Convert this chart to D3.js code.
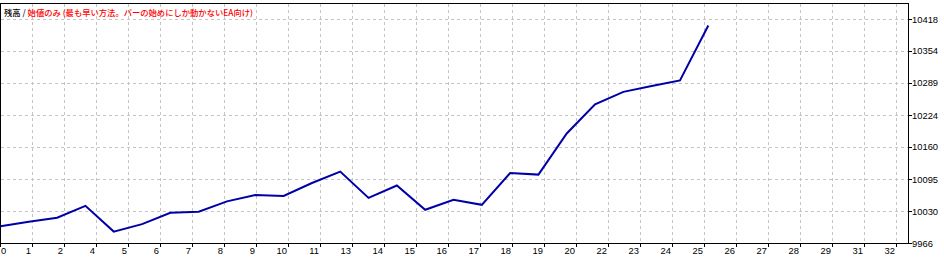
<!DOCTYPE html>
<html>
<head>
<meta charset="utf-8">
<script src="https://cdn.jsdelivr.net/npm/d3@7"></script>
<style>
  html, body { margin: 0; padding: 0; background: #fff; }
  svg { display: block; }
</style>
</head>
<body>
<script>
// ---- data ----
const trades = d3.range(26);
const balance = [10000, 10009, 10017, 10041, 9989, 10004, 10027, 10029, 10050, 10063,
                 10061, 10087, 10110, 10057, 10082, 10033, 10053, 10043, 10107, 10104,
                 10187, 10246, 10271, 10283, 10294, 10405];
const yTickLabels = [9966, 10030, 10095, 10160, 10224, 10289, 10354, 10418];
const xTickLabels = [0, 1, 2, 4, 5, 6, 7, 8, 9, 10, 11, 13, 14, 15, 16, 17, 18, 19, 20,
                     22, 23, 24, 25, 26, 27, 28, 29, 31, 32];
const titleParts = [
  { text: "残高", color: "#000000" },
  { text: " / ", color: "#202040" },
  { text: "始値のみ (最も早い方法。バーの始めにしか動かないEA向け)", color: "#ff0000" }
];

// ---- layout ----
const W = 944, H = 258;
const pLeft = 0.5, pRight = 908.5, pTop = 3.5, pBottom = 243.5;

const svg = d3.select("body").append("svg").attr("width", W).attr("height", H);

const y = d3.scaleLinear().domain([9966, 10418]).range([243, 19]);
const xLine = d3.scaleLinear().domain([0, 25]).range([0.5, 708.3]);
const xGrid = d3.scalePoint().domain(d3.range(xTickLabels.length)).range([0, 896]);

const grid = svg.append("g")
  .attr("stroke", "#c4c4c4").attr("stroke-width", 1).attr("stroke-dasharray", "3,3")
  .attr("shape-rendering", "crispEdges");

// vertical gridlines
grid.selectAll("line.v").data(xGrid.domain().slice(1)).join("line")
  .attr("class", "v")
  .attr("x1", d => xGrid(d) + 0.5).attr("x2", d => xGrid(d) + 0.5)
  .attr("y1", pTop).attr("y2", pBottom);

// horizontal gridlines
grid.selectAll("line.h").data(yTickLabels.slice(1)).join("line")
  .attr("class", "h")
  .attr("x1", pLeft).attr("x2", pRight)
  .attr("y1", d => Math.round(y(d)) + 0.5).attr("y2", d => Math.round(y(d)) + 0.5);

// frame
svg.append("rect")
  .attr("x", pLeft).attr("y", pTop).attr("width", pRight - pLeft).attr("height", pBottom - pTop)
  .attr("fill", "none").attr("stroke", "#000").attr("stroke-width", 1)
  .attr("shape-rendering", "crispEdges");

// x ticks + labels
svg.append("g").attr("shape-rendering", "crispEdges")
  .selectAll("line").data(xGrid.domain()).join("line")
  .attr("x1", d => xGrid(d) + 0.5).attr("x2", d => xGrid(d) + 0.5)
  .attr("y1", pBottom).attr("y2", pBottom + 3)
  .attr("stroke", "#000");
svg.append("g").selectAll("text").data(xGrid.domain()).join("text")
  .attr("x", d => d === 0 ? 1 : xGrid(d) - 1)
  .attr("y", 254)
  .attr("text-anchor", d => d === 0 ? "start" : "end")
  .attr("font-family", "'Liberation Sans', Arial, sans-serif")
  .attr("font-size", "9.4px")
  .attr("fill", "#000")
  .text(d => xTickLabels[d]);

// y ticks + labels
svg.append("g").selectAll("line").data(yTickLabels).join("line")
  .attr("x1", pRight).attr("x2", pRight + 3)
  .attr("y1", d => Math.round(y(d)) + 0.5).attr("y2", d => Math.round(y(d)) + 0.5)
  .attr("stroke", "#000").attr("shape-rendering", "crispEdges");
svg.append("g").selectAll("text").data(yTickLabels).join("text")
  .attr("x", 912)
  .attr("y", d => y(d) + 3.5)
  .attr("font-family", "'Liberation Sans', Arial, sans-serif")
  .attr("font-size", "9.4px")
  .attr("fill", "#000")
  .text(d => d);

// balance line
const line = d3.line().x((d, i) => xLine(trades[i])).y(d => y(d));
svg.append("path")
  .datum(balance)
  .attr("d", line)
  .attr("fill", "none")
  .attr("stroke", "#0000a8")
  .attr("stroke-width", 2)
  .attr("stroke-linejoin", "miter");

// title
const title = svg.append("text")
  .attr("x", 4).attr("y", 16)
  .attr("font-family", "'Noto Sans CJK JP', sans-serif")
  .attr("font-size", "8.3px")
  .attr("font-weight", 500);
title.selectAll("tspan").data(titleParts).join("tspan")
  .attr("fill", d => d.color)
  .attr("xml:space", "preserve")
  .text(d => d.text);
</script>
</body>
</html>
